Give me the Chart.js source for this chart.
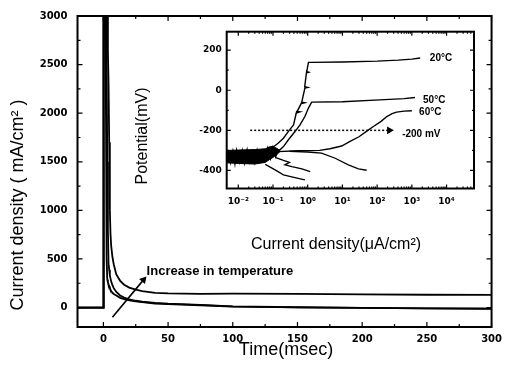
<!DOCTYPE html>
<html>
<head>
<meta charset="utf-8">
<script src="https://cdn.jsdelivr.net/npm/chart.js@4.4.1/dist/chart.umd.min.js"></script>
<style>
  html, body { margin: 0; padding: 0; background: #fff; }
  #wrap { position: relative; width: 508px; height: 367px; overflow: hidden; }
  #mainChart { position: absolute; left: 0; top: 0; }
  #insetChart { position: absolute; left: 130px; top: 20px; }
</style>
</head>
<body>
<div id="wrap">
  <canvas id="mainChart" width="508" height="367"></canvas>
  <canvas id="insetChart" width="370" height="240"></canvas>
</div>
<script>
// ---- main plot: current transients ----
const timeMs   = [-20, -0.2, 0, 0.3, 1.5, 2, 2.5, 3, 3.5, 4, 4.5, 5, 5.5, 6, 7, 8, 10, 13, 16, 20, 25, 30, 40, 50, 75, 100, 150, 200, 250, 300];
const highTemp = [0, 0, 0, 4500, 4200, 3800, 3400, 3000, 2650, 2300, 1700, 1000, 760, 640, 520, 446, 340, 275, 235, 205, 185, 170, 152, 146, 141, 144, 140, 135, 132, 130];
const midTemp  = [0, 0, 0, 4500, 4000, 3300, 2600, 1500, 800, 450, 390, 330, 300, 270, 230, 200, 160, 125, 102, 85, 70, 60, 48, 40, 28, 12, 3, -3, -8, -10];
const lowTemp  = [0, 0, 0, 4500, 3000, 2000, 500, 290, 260, 240, 220, 200, 185, 170, 152, 140, 125, 100, 86, 75, 65, 55, 42, 35, 24, 10, 2, -4, -9, -12];
const arrowT = [7, 31];
const arrowJ = [-100, 285];

const xTicks = [0, 50, 100, 150, 200, 250, 300];
const xMinor = [25, 75, 125, 175, 225, 275];
const yTicks = [0, 500, 1000, 1500, 2000, 2500, 3000];
const yMinor = [-250, 250, 750, 1250, 1750, 2250, 2750];

// ---- inset: polarization curves ----
const c20x = [0.0047, 0.0079, 0.038, 0.091, 0.14, 0.2, 0.275, 0.39, 0.48, 0.6, 0.47, 0.68, 0.82, 0.66, 0.83, 1.0, 0.82, 0.93, 1.08, 0.92, 1.05, 1.3, 10, 100, 400, 1000, 1740];
const c20y = [-318, -314, -306, -289, -264, -239, -206, -173, -106, -108, -114, -59, -62, -66, 11, 14, 18, 94, 90, 86, 139, 139, 141, 145, 150, 155, 161];
const c50x = [0.0047, 0.0079, 0.038, 0.09, 0.14, 0.2, 0.275, 0.43, 0.6, 0.83, 1.05, 1.3, 10, 120, 600, 1230];
const c50y = [-335, -331, -323, -315, -306, -281, -248, -206, -173, -131, -89, -59, -57, -48, -42, -36];
const c60x = [0.0047, 0.05, 0.14, 0.5, 2.2, 4.4, 9.5, 16.6, 30, 54, 78, 130, 190, 270, 363, 600, 1000];
const c60y = [-322, -318, -306, -302, -300, -292, -278, -255, -232, -200, -181, -155, -131, -117, -109, -104, -102];
const cathAx = [0.3, 1.0, 2.5, 6.2, 14.8, 29, 50];
const cathAy = [-305, -308, -314, -339, -372, -392, -399];
const cathBx = [0.115, 0.2, 0.3, 0.22, 0.35, 0.68, 1.18];
const cathBy = [-335, -350, -360, -372, -381, -392, -406];
const cathCx = [0.06, 0.115, 0.2, 0.43, 0.83];
const cathCy = [-370, -397, -422, -436, -447];
const massTopX = [0.0047, 0.01, 0.03, 0.06, 0.08, 0.1, 0.13, 0.16];
const massTopY = [-300, -298, -296, -292, -282, -280, -290, -300];
const massBotX = [0.0047, 0.01, 0.03, 0.06, 0.08, 0.1, 0.13, 0.16];
const massBotY = [-362, -365, -368, -360, -345, -335, -320, -305];
const noiseX = [0.005, 0.006, 0.007, 0.008, 0.009, 0.011, 0.013, 0.015, 0.018, 0.021, 0.025, 0.03, 0.035, 0.042, 0.05, 0.06, 0.07, 0.085, 0.1, 0.12, 0.14];
const noiseY = [-300, -360, -305, -365, -300, -358, -302, -362, -298, -355, -305, -360, -300, -350, -303, -345, -290, -340, -285, -330, -295];
const refX = [0.022, 225];
const refY = [-200, -200];

const insetLabels = ['20\u00B0C', '50\u00B0C', '60\u00B0C', '-200 mV'];
const insetLabelX = [3300, 2100, 1620, 525];
const insetLabelY = [161, -49, -108, -218];

const logTicks = [0.01, 0.1, 1, 10, 100, 1000, 10000];
const logMinor = [];
[0.01, 0.1, 1, 10, 100, 1000, 10000].forEach(d => { for (let k = 2; k <= 9; k++) logMinor.push(d * k); });
const potTicks = [-400, -200, 0, 200];
const potMinor = [-300, -100, 100];

const sup = { '-': '\u207B', '0': '\u2070', '1': '\u00B9', '2': '\u00B2', '3': '\u00B3', '4': '\u2074' };

function pts(xs, ys) { return xs.map((x, i) => ({ x: x, y: ys[i] })); }

function line(data, w, extra) {
  return Object.assign({ data: data, borderColor: '#000', backgroundColor: '#000', borderWidth: w, pointRadius: 0, tension: 0, fill: false }, extra || {});
}

// inner tick marks and a box frame
function frameTicks(cfg) {
  return {
    id: 'frameTicks',
    afterDatasetsDraw(chart) {
      const { ctx, chartArea: a } = chart;
      ctx.save();
      ctx.strokeStyle = '#000';
      ctx.lineWidth = 1.2;
      const mark = (scale, vals, len) => {
        vals.forEach(v => {
          const p = scale.getPixelForValue(v);
          ctx.beginPath();
          if (scale.isHorizontal()) {
            if (p < a.left || p > a.right) return;
            ctx.moveTo(p, a.bottom); ctx.lineTo(p, a.bottom - len);
            ctx.moveTo(p, a.top); ctx.lineTo(p, a.top + len);
          } else {
            if (p < a.top || p > a.bottom) return;
            ctx.moveTo(a.left, p); ctx.lineTo(a.left + len, p);
            ctx.moveTo(a.right, p); ctx.lineTo(a.right - len, p);
          }
          ctx.stroke();
        });
      };
      mark(chart.scales.x, cfg.xMajor, cfg.major);
      mark(chart.scales.x, cfg.xMinor, cfg.minor);
      mark(chart.scales.y, cfg.yMajor, cfg.major);
      mark(chart.scales.y, cfg.yMinor, cfg.minor);
      ctx.lineWidth = cfg.frame;
      ctx.strokeRect(a.left, a.top, a.right - a.left, a.bottom - a.top);
      ctx.restore();
    }
  };
}

// free text: either in data coords (data:true) or canvas px
function notes(items) {
  return {
    id: 'notes',
    afterDraw(chart) {
      const ctx = chart.ctx;
      items.forEach(it => {
        let x = it.x, y = it.y;
        if (it.data) {
          x = chart.scales.x.getPixelForValue(it.x);
          y = chart.scales.y.getPixelForValue(it.y);
        }
        ctx.save();
        ctx.translate(x, y);
        if (it.rot) ctx.rotate(it.rot);
        ctx.font = it.font;
        ctx.fillStyle = '#000';
        ctx.textAlign = it.align || 'center';
        ctx.textBaseline = 'middle';
        ctx.fillText(it.text, 0, 0);
        ctx.restore();
      });
    }
  };
}

const tickFont = { family: 'DejaVu Sans', weight: 'bold', size: 10 };

new Chart(document.getElementById('mainChart'), {
  type: 'line',
  data: {
    datasets: [
      line(pts(timeMs, highTemp), 1.8, { clip: 0 }),
      line(pts(timeMs, midTemp), 1.8, { clip: 0 }),
      line(pts(timeMs, lowTemp), 1.8, { clip: 0 }),
      line(pts(arrowT, arrowJ), 1.6, { pointRadius: [0, 4.5], pointStyle: 'triangle', pointRotation: 40, pointBackgroundColor: '#000', pointBorderColor: '#000', pointBorderWidth: 0 })
    ]
  },
  options: {
    responsive: false, animation: false, devicePixelRatio: 1,
    layout: { padding: { top: 13, right: 11, left: 0, bottom: 0 } },
    plugins: { legend: { display: false }, tooltip: { enabled: false } },
    scales: {
      x: {
        type: 'linear', min: -20, max: 300,
        afterFit: s => { s.height = 40; },
        afterBuildTicks: s => { s.ticks = xTicks.map(v => ({ value: v })); },
        grid: { display: false, drawTicks: false }, border: { display: false },
        ticks: { font: tickFont, color: '#000', padding: 6, maxRotation: 0, autoSkip: false, callback: v => String(v) }
      },
      y: {
        type: 'linear', min: -200, max: 3000,
        afterFit: s => { s.width = 77.5; },
        afterBuildTicks: s => { s.ticks = yTicks.map(v => ({ value: v })); },
        grid: { display: false, drawTicks: false }, border: { display: false },
        ticks: { font: tickFont, color: '#000', padding: 10, autoSkip: false, callback: v => String(v) }
      }
    }
  },
  plugins: [
    frameTicks({ xMajor: xTicks, xMinor: xMinor, yMajor: yTicks, yMinor: yMinor, major: 5, minor: 3, frame: 2 }),
    notes([
      { text: 'Current density ( mA/cm\u00B2 )', x: 18, y: 205, rot: -Math.PI / 2, font: '18px "Liberation Sans", Arial, sans-serif' },
      { text: 'Time(msec)', x: 286, y: 350, font: '18px "Liberation Sans", Arial, sans-serif' },
      { text: 'Increase in temperature', x: 33.4, y: 371, data: true, align: 'left', font: 'bold 13px "Liberation Sans", Arial, sans-serif' }
    ])
  ]
});

const insetFont = { family: 'DejaVu Sans', weight: 'bold', size: 9 };

new Chart(document.getElementById('insetChart'), {
  type: 'line',
  data: {
    datasets: [
      line(pts(massTopX, massTopY), 1, { fill: '+1' }),
      line(pts(massBotX, massBotY), 1),
      line(pts(noiseX, noiseY), 1.5),
      line(pts(c20x, c20y), 1.4),
      line(pts(c50x, c50y), 1.4),
      line(pts(c60x, c60y), 1.4),
      line(pts(cathAx, cathAy), 1.3),
      line(pts(cathBx, cathBy), 1.3),
      line(pts(cathCx, cathCy), 1.3),
      line(pts(refX, refY), 1.5, { borderDash: [2, 2], pointRadius: [0, 4.5], pointStyle: 'triangle', pointRotation: 90, pointBackgroundColor: '#000', pointBorderColor: '#000', pointBorderWidth: 0 })
    ]
  },
  options: {
    responsive: false, animation: false, devicePixelRatio: 1,
    layout: { padding: { top: 11.7, right: 26, left: 0, bottom: 0 } },
    plugins: { legend: { display: false }, tooltip: { enabled: false } },
    scales: {
      x: {
        type: 'logarithmic', min: 0.00464, max: 61700,
        afterFit: s => { s.height = 71.5; },
        afterBuildTicks: s => { s.ticks = logTicks.map(v => ({ value: v })); },
        grid: { display: false, drawTicks: false }, border: { display: false },
        ticks: {
          font: insetFont, color: '#000', padding: 8, maxRotation: 0, autoSkip: false,
          callback: v => '10' + String(Math.round(Math.log10(v))).split('').map(c => sup[c]).join('')
        }
      },
      y: {
        type: 'linear', min: -490, max: 292,
        afterFit: s => { s.width = 96.7; },
        afterBuildTicks: s => { s.ticks = potTicks.map(v => ({ value: v })); },
        grid: { display: false, drawTicks: false }, border: { display: false },
        ticks: { font: insetFont, color: '#000', padding: 5, autoSkip: false, callback: v => String(v) }
      }
    }
  },
  plugins: [
    frameTicks({ xMajor: logTicks, xMinor: logMinor, yMajor: potTicks, yMinor: potMinor, major: 4, minor: 2, frame: 2 }),
    notes(insetLabels.map((t, i) => ({ text: t, x: insetLabelX[i], y: insetLabelY[i], data: true, align: 'left', font: 'bold 10px "Liberation Sans", Arial, sans-serif' })).concat([
      { text: 'Potential(mV)', x: 12.5, y: 116, rot: -Math.PI / 2, font: '16px "Liberation Sans", Arial, sans-serif' },
      { text: 'Current density(\u03BCA/cm\u00B2)', x: 206, y: 225, font: '16px "Liberation Sans", Arial, sans-serif' }
    ]))
  ]
});
</script>
</body>
</html>
